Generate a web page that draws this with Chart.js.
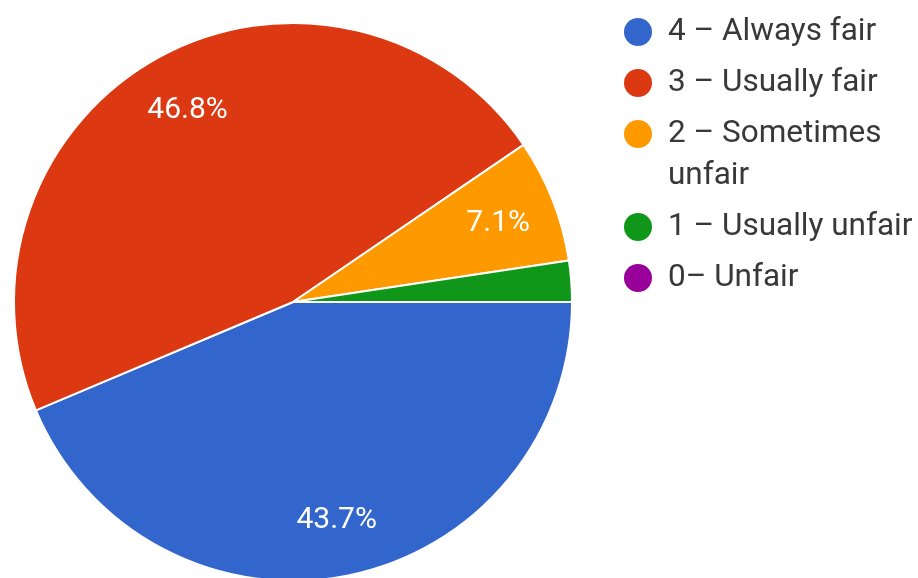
<!DOCTYPE html>
<html>
<head>
<meta charset="utf-8">
<script src="https://cdn.jsdelivr.net/npm/chart.js@4/dist/chart.umd.min.js"></script>
<style>
  html, body { margin: 0; padding: 0; background: #fff; overflow: hidden; }
  #wrap { width: 918px; height: 578px; overflow: hidden; }
</style>
</head>
<body>
<div id="wrap"><canvas id="pie" width="918" height="600"></canvas></div>
<script>
// answers (from the legend, top to bottom)
var categories = ['4 \u2013 Always fair', '3 \u2013 Usually fair', '2 \u2013 Sometimes unfair', '1 \u2013 Usually unfair', '0\u2013 Unfair'];
// response counts (43.7 / 46.8 / 7.1 / 2.4 / 0)
var counts = [55, 59, 9, 3, 0];
var colors = ['#3366cc', '#dc3912', '#ff9900', '#109618', '#990099'];

// percent labels inside the slices
var sliceLabels = {
  id: 'sliceLabels',
  afterDatasetsDraw: function(chart) {
    var ctx = chart.ctx;
    var meta = chart.getDatasetMeta(0);
    var data = chart.data.datasets[0].data;
    var total = data.reduce(function(a, b) { return a + b; }, 0);
    ctx.save();
    ctx.fillStyle = '#ffffff';
    ctx.font = '30px Roboto';
    ctx.textAlign = 'center';
    ctx.textBaseline = 'middle';
    meta.data.forEach(function(arc, i) {
      var pct = data[i] / total * 100;
      if (pct < 5) return;
      var mid = (arc.startAngle + arc.endAngle) / 2;
      var r = arc.outerRadius * 0.79;
      ctx.fillText(pct.toFixed(1) + '%', arc.x + Math.cos(mid) * r, arc.y + Math.sin(mid) * r + 2);
    });
    ctx.restore();
  }
};

// legend on the right, with word wrap like the original
var sideLegend = {
  id: 'sideLegend',
  afterDraw: function(chart) {
    var ctx = chart.ctx;
    var x0 = 638, tx = 668, y = 32, maxW = 252;
    ctx.save();
    ctx.font = '31.5px Roboto';
    ctx.textBaseline = 'middle';
    chart.data.labels.forEach(function(label, i) {
      ctx.fillStyle = chart.data.datasets[0].backgroundColor[i];
      ctx.beginPath();
      ctx.arc(x0, y, 14, 0, Math.PI * 2);
      ctx.fill();
      ctx.fillStyle = '#383838';
      var words = label.split(' ');
      var line = '';
      var lines = [];
      words.forEach(function(w) {
        var test = line ? line + ' ' + w : w;
        if (line && ctx.measureText(test).width > maxW) {
          lines.push(line);
          line = w;
        } else {
          line = test;
        }
      });
      lines.push(line);
      lines.forEach(function(l, j) {
        ctx.fillText(l, tx, y + j * 42);
      });
      y += 51 + (lines.length - 1) * 42;
    });
    ctx.restore();
  }
};

new Chart(document.getElementById('pie'), {
  type: 'pie',
  data: {
    labels: categories,
    datasets: [{
      data: counts,
      backgroundColor: colors,
      borderColor: '#ffffff',
      borderWidth: 2
    }]
  },
  options: {
    responsive: false,
    animation: false,
    rotation: 90,
    layout: { padding: { left: 13, right: 345, top: 22, bottom: 18 } },
    plugins: {
      legend: { display: false },
      tooltip: { enabled: false }
    }
  },
  plugins: [sliceLabels, sideLegend]
});
</script>
</body>
</html>
